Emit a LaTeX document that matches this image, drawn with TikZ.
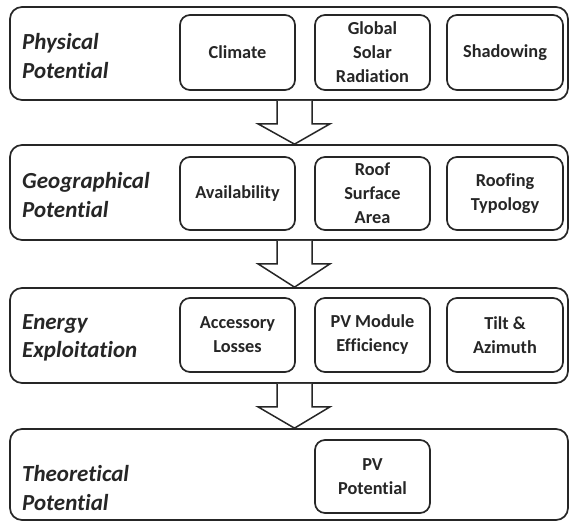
\documentclass[tikz,border=0pt]{standalone}
\usepackage{fontspec}
\setmainfont{Carlito}[Ligatures=NoCommon]
\usetikzlibrary{calc}
\definecolor{ink}{HTML}{262626}
\tikzset{
  stage/.style={draw=ink, line width=1.7pt, rounded corners=12pt, fill=white,
    minimum width=558pt, inner sep=0pt},
  factor/.style={draw=ink, line width=1.7pt, rounded corners=10pt, fill=white,
    minimum width=115pt, minimum height=74pt, inner sep=0pt, align=center,
    text=ink, font=\bfseries\fontsize{18.3}{24}\selectfont},
  stagelabel/.style={anchor=west, align=left, inner sep=0pt, text=ink,
    font=\bfseries\itshape\fontsize{23}{28.5}\selectfont},
  flow/.style={draw=ink, line width=1.5pt, fill=white, line join=miter},
}
% hollow block arrow from the bottom of one stage to the top of the next
\newcommand\flowarrow[2]{%
  \draw[flow] ($(#1.south -| ax)+(-17.5,0)$) -- ++(0,23) -- ++(-19,0)
    -- (#2.north -| ax) -- ($(#1.south -| ax)+(35.5,23)$) -- ++(-18,0) -- ++(0,-23);}
\begin{document}
\begin{tikzpicture}[x=1pt, y=-1pt]
\useasboundingbox (0,0) rectangle (571,522);
\coordinate (ax) at (294.5,0);

% stages
\node[stage, minimum height=93pt] (p1) at (289,53.5) {};
\node[stage, minimum height=95pt] (p2) at (289,192.5) {};
\node[stage, minimum height=95pt] (p3) at (289,335.5) {};
\node[stage, minimum height=91pt] (p4) at (289,474.5) {};

% stage titles
\node[stagelabel] (l1) at (22,56) {Physical\\Potential};
\node[stagelabel] (l2) at (22,195) {Geographical\\Potential};
\node[stagelabel] (l3) at (22,338) {Energy\\Exploitation};
\node[stagelabel] (l4) at (22,488) {Theoretical\\Potential};

% factors of each stage
\node[factor, minimum height=75pt] (clim) at (237.5,52.5) {Climate};
\node[factor, minimum height=75pt] (rad)  at (372.5,52.5) {Global\\Solar\\Radiation};
\node[factor, minimum height=75pt, minimum width=116pt] (shad) at (505,52.5) {Shadowing};

\node[factor, minimum height=73pt] (avail) at (237.5,193.5) {Availability};
\node[factor, minimum height=73pt] (roof)  at (372.5,193.5) {Roof\\Surface\\Area};
\node[factor, minimum height=73pt, minimum width=116pt] (typo) at (505,193.5) {Roofing\\Typology};

\node[factor] (loss) at (237.5,335) {Accessory\\Losses};
\node[factor] (eff)  at (372.5,335) {PV Module\\Efficiency};
\node[factor, minimum width=116pt] (tilt) at (505,335) {Tilt \&\\Azimuth};

\node[factor, minimum height=73pt] (pv) at (372.5,476.5) {PV\\Potential};

% flow between stages
\flowarrow{p1}{p2}
\flowarrow{p2}{p3}
\flowarrow{p3}{p4}
\end{tikzpicture}
\end{document}
